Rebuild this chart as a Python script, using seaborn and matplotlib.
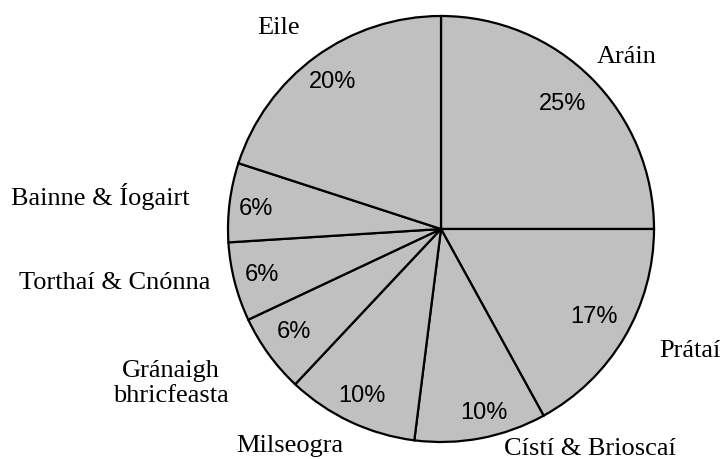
import matplotlib
matplotlib.use("Agg")
import matplotlib.pyplot as plt
import seaborn as sns

# datos del gráfico
categorias = ["Aráin", "Prátaí", "Cístí & Brioscaí", "Milseogra",
              "Gránaigh\nbhricfeasta", "Torthaí & Cnónna", "Bainne & Íogairt", "Eile"]
porcentajes = [25, 17, 10, 10, 6, 6, 6, 20]

# posiciones de las etiquetas (coordenadas del eje, radio = 1)
pos_etiquetas = [(0.87, 0.81), (1.17, -0.57), (0.70, -1.03), (-0.71, -1.013),
                 (-0.995, -0.72), (-1.53, -0.25), (-1.60, 0.155), (-0.765, 0.948)]
alin_etiquetas = ["center", "center", "center", "center", "right", "center", "center", "center"]
pos_pct = [(0.57, 0.59), (0.72, -0.41), (0.20, -0.86), (-0.37, -0.78),
           (-0.69, -0.48), (-0.84, -0.21), (-0.87, 0.10), (-0.51, 0.695)]

sns.set_style("white")
plt.rcParams["font.family"] = ["Liberation Serif", "DejaVu Serif"]
plt.rcParams["text.color"] = "black"

fig = plt.figure(figsize=(7.23, 4.6), dpi=100)
# centro del pastel en (441, 230) px, radio 213 px
ax = fig.add_axes([(441 - 213) / 723, (460 - 443) / 460, 426 / 723, 426 / 460])

colores = sns.color_palette(["#c0c0c0"] * len(porcentajes))
cuñas, textos, autotextos = ax.pie(
    porcentajes, colors=colores, startangle=90, counterclock=False,
    autopct="%d%%", radius=1,
    wedgeprops=dict(edgecolor="black", linewidth=1.6),
    textprops=dict(fontsize=17, color="black", family=["Liberation Sans", "DejaVu Sans"]))

for t, (x, y) in zip(autotextos, pos_pct):
    t.set_position((x, y))

for nombre, (x, y), ha in zip(categorias, pos_etiquetas, alin_etiquetas):
    ax.text(x, y, nombre, ha=ha, va="center", fontsize=19, color="black",
            multialignment="center", clip_on=False)

ax.set_xlim(-1, 1)
ax.set_ylim(-1, 1)
ax.set_aspect("equal")
ax.axis("off")

fig.savefig("out.png", dpi=100, facecolor="white")
